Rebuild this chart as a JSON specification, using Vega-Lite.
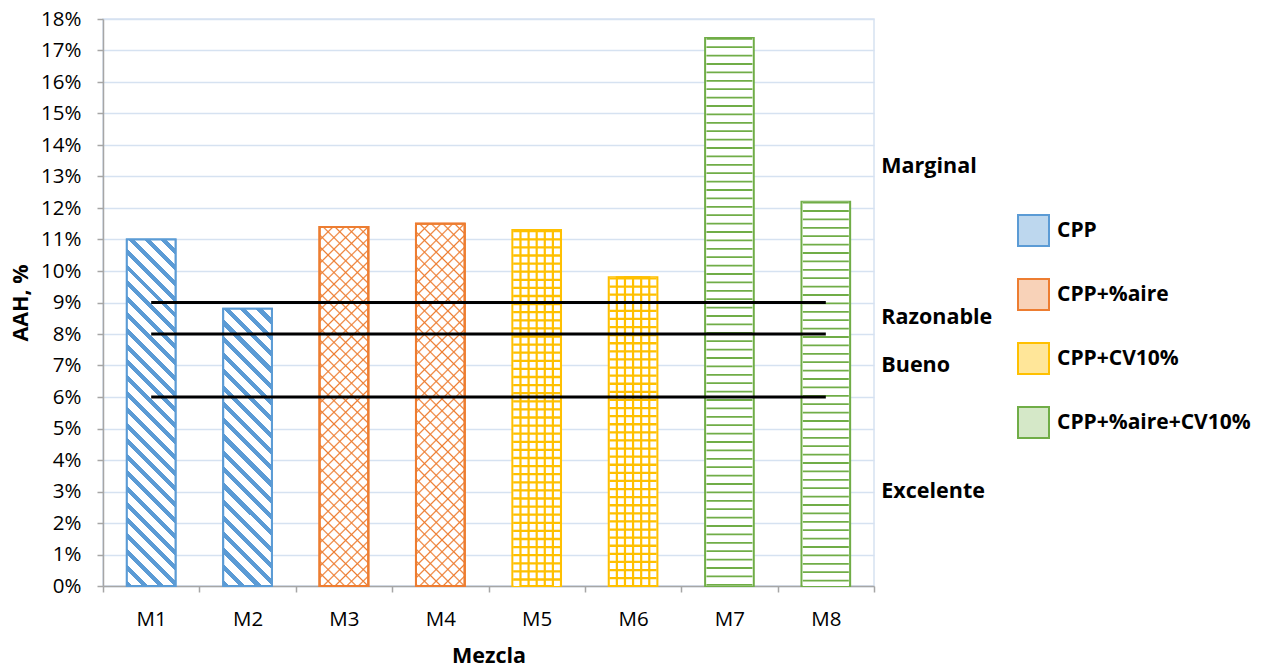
{
  "$schema": "https://vega.github.io/schema/vega-lite/v6.json",
  "width": 771,
  "height": 567,
  "autosize": "none",
  "padding": {"left": 103, "top": 19, "right": 403, "bottom": 84},
  "background": "white",
  "config": {
    "font": "Open Sans",
    "view": {"stroke": "#d6e2f1", "strokeWidth": 1.5},
    "axis": {
      "labelFont": "Open Sans", "labelFontSize": 20.5, "labelColor": "#000",
      "titleFont": "Open Sans", "titleFontSize": 21.5, "titleFontWeight": "bold", "titleColor": "#000",
      "domainColor": "#a6a6a6", "tickColor": "#a6a6a6", "domainWidth": 1.5, "tickWidth": 1.5, "tickSize": 6
    },
    "legend": {
      "orient": "none", "legendX": 914, "legendY": 195, "padding": 0,
      "symbolType": "square", "symbolSize": 961, "symbolStrokeWidth": 2,
      "labelFont": "Open Sans", "labelFontSize": 21, "labelFontWeight": "bold", "labelColor": "#000",
      "labelOffset": 7, "rowPadding": 25, "labelLimit": 0, "title": null
    }
  },
  "data": {
    "values": [
      {"Mezcla": "M1", "AAH": 0.110, "Tipo": "CPP"},
      {"Mezcla": "M2", "AAH": 0.088, "Tipo": "CPP"},
      {"Mezcla": "M3", "AAH": 0.114, "Tipo": "CPP+%aire"},
      {"Mezcla": "M4", "AAH": 0.115, "Tipo": "CPP+%aire"},
      {"Mezcla": "M5", "AAH": 0.113, "Tipo": "CPP+CV10%"},
      {"Mezcla": "M6", "AAH": 0.098, "Tipo": "CPP+CV10%"},
      {"Mezcla": "M7", "AAH": 0.174, "Tipo": "CPP+%aire+CV10%"},
      {"Mezcla": "M8", "AAH": 0.122, "Tipo": "CPP+%aire+CV10%"}
    ]
  },
  "encoding": {
    "x": {
      "field": "Mezcla", "type": "nominal",
      "scale": {"type": "band", "paddingInner": 0, "paddingOuter": 0},
      "axis": {"title": "Mezcla", "labelAngle": 0, "tickBand": "extent", "labelPadding": 17, "titlePadding": 16, "grid": false}
    },
    "y": {
      "field": "AAH", "type": "quantitative",
      "scale": {"domain": [0, 0.18], "nice": false},
      "axis": {
        "title": "AAH, %",
        "values": [0, 0.01, 0.02, 0.03, 0.04, 0.05, 0.06, 0.07, 0.08, 0.09, 0.1, 0.11, 0.12, 0.13, 0.14, 0.15, 0.16, 0.17, 0.18],
        "format": ".0%", "grid": true, "gridColor": "#d6e2f1", "gridWidth": 1.5,
        "labelPadding": 16, "titlePadding": 8
      }
    }
  },
  "layer": [
    {
      "mark": {"type": "bar", "width": {"band": 0.505}, "strokeWidth": 2},
      "encoding": {
        "fill": {
          "field": "Tipo", "type": "nominal",
          "scale": {"domain": ["CPP", "CPP+%aire", "CPP+CV10%", "CPP+%aire+CV10%"], "range": ["#bdd7ee", "#f8d2b8", "#ffe699", "#d5e8c8"]}
        },
        "stroke": {
          "field": "Tipo", "type": "nominal",
          "scale": {"domain": ["CPP", "CPP+%aire", "CPP+CV10%", "CPP+%aire+CV10%"], "range": ["#5b9bd5", "#ed7d31", "#ffc000", "#70ad47"]}
        }
      }
    },
    {
      "transform": [{"filter": "datum.Mezcla === 'M1'"}],
      "mark": {
        "type": "bar", "width": {"band": 0.505}, "stroke": "#5b9bd5", "strokeWidth": 2,
        "fill": {
          "gradient": "linear", "x1": 0, "y1": 1, "x2": 0.1571, "y2": -0.1185,
          "stops": [
            {"offset": 0, "color": "#5b9bd5"}, {"offset": 0.015, "color": "#5b9bd5"}, {"offset": 0.015, "color": "#ffffff"}, {"offset": 0.04, "color": "#ffffff"},
            {"offset": 0.04, "color": "#5b9bd5"}, {"offset": 0.055, "color": "#5b9bd5"}, {"offset": 0.055, "color": "#ffffff"}, {"offset": 0.08, "color": "#ffffff"},
            {"offset": 0.08, "color": "#5b9bd5"}, {"offset": 0.095, "color": "#5b9bd5"}, {"offset": 0.095, "color": "#ffffff"}, {"offset": 0.12, "color": "#ffffff"},
            {"offset": 0.12, "color": "#5b9bd5"}, {"offset": 0.135, "color": "#5b9bd5"}, {"offset": 0.135, "color": "#ffffff"}, {"offset": 0.16, "color": "#ffffff"},
            {"offset": 0.16, "color": "#5b9bd5"}, {"offset": 0.175, "color": "#5b9bd5"}, {"offset": 0.175, "color": "#ffffff"}, {"offset": 0.2, "color": "#ffffff"},
            {"offset": 0.2, "color": "#5b9bd5"}, {"offset": 0.215, "color": "#5b9bd5"}, {"offset": 0.215, "color": "#ffffff"}, {"offset": 0.24, "color": "#ffffff"},
            {"offset": 0.24, "color": "#5b9bd5"}, {"offset": 0.255, "color": "#5b9bd5"}, {"offset": 0.255, "color": "#ffffff"}, {"offset": 0.28, "color": "#ffffff"},
            {"offset": 0.28, "color": "#5b9bd5"}, {"offset": 0.295, "color": "#5b9bd5"}, {"offset": 0.295, "color": "#ffffff"}, {"offset": 0.32, "color": "#ffffff"},
            {"offset": 0.32, "color": "#5b9bd5"}, {"offset": 0.335, "color": "#5b9bd5"}, {"offset": 0.335, "color": "#ffffff"}, {"offset": 0.36, "color": "#ffffff"},
            {"offset": 0.36, "color": "#5b9bd5"}, {"offset": 0.375, "color": "#5b9bd5"}, {"offset": 0.375, "color": "#ffffff"}, {"offset": 0.4, "color": "#ffffff"},
            {"offset": 0.4, "color": "#5b9bd5"}, {"offset": 0.415, "color": "#5b9bd5"}, {"offset": 0.415, "color": "#ffffff"}, {"offset": 0.44, "color": "#ffffff"},
            {"offset": 0.44, "color": "#5b9bd5"}, {"offset": 0.455, "color": "#5b9bd5"}, {"offset": 0.455, "color": "#ffffff"}, {"offset": 0.48, "color": "#ffffff"},
            {"offset": 0.48, "color": "#5b9bd5"}, {"offset": 0.495, "color": "#5b9bd5"}, {"offset": 0.495, "color": "#ffffff"}, {"offset": 0.52, "color": "#ffffff"},
            {"offset": 0.52, "color": "#5b9bd5"}, {"offset": 0.535, "color": "#5b9bd5"}, {"offset": 0.535, "color": "#ffffff"}, {"offset": 0.56, "color": "#ffffff"},
            {"offset": 0.56, "color": "#5b9bd5"}, {"offset": 0.575, "color": "#5b9bd5"}, {"offset": 0.575, "color": "#ffffff"}, {"offset": 0.6, "color": "#ffffff"},
            {"offset": 0.6, "color": "#5b9bd5"}, {"offset": 0.615, "color": "#5b9bd5"}, {"offset": 0.615, "color": "#ffffff"}, {"offset": 0.64, "color": "#ffffff"},
            {"offset": 0.64, "color": "#5b9bd5"}, {"offset": 0.655, "color": "#5b9bd5"}, {"offset": 0.655, "color": "#ffffff"}, {"offset": 0.68, "color": "#ffffff"},
            {"offset": 0.68, "color": "#5b9bd5"}, {"offset": 0.695, "color": "#5b9bd5"}, {"offset": 0.695, "color": "#ffffff"}, {"offset": 0.72, "color": "#ffffff"},
            {"offset": 0.72, "color": "#5b9bd5"}, {"offset": 0.735, "color": "#5b9bd5"}, {"offset": 0.735, "color": "#ffffff"}, {"offset": 0.76, "color": "#ffffff"},
            {"offset": 0.76, "color": "#5b9bd5"}, {"offset": 0.775, "color": "#5b9bd5"}, {"offset": 0.775, "color": "#ffffff"}, {"offset": 0.8, "color": "#ffffff"},
            {"offset": 0.8, "color": "#5b9bd5"}, {"offset": 0.815, "color": "#5b9bd5"}, {"offset": 0.815, "color": "#ffffff"}, {"offset": 0.84, "color": "#ffffff"},
            {"offset": 0.84, "color": "#5b9bd5"}, {"offset": 0.855, "color": "#5b9bd5"}, {"offset": 0.855, "color": "#ffffff"}, {"offset": 0.88, "color": "#ffffff"},
            {"offset": 0.88, "color": "#5b9bd5"}, {"offset": 0.895, "color": "#5b9bd5"}, {"offset": 0.895, "color": "#ffffff"}, {"offset": 0.92, "color": "#ffffff"},
            {"offset": 0.92, "color": "#5b9bd5"}, {"offset": 0.935, "color": "#5b9bd5"}, {"offset": 0.935, "color": "#ffffff"}, {"offset": 0.96, "color": "#ffffff"},
            {"offset": 0.96, "color": "#5b9bd5"}, {"offset": 0.975, "color": "#5b9bd5"}, {"offset": 0.975, "color": "#ffffff"}, {"offset": 1, "color": "#ffffff"}
          ]
        }
      }
    },
    {
      "transform": [{"filter": "datum.Mezcla === 'M2'"}],
      "mark": {
        "type": "bar", "width": {"band": 0.505}, "stroke": "#5b9bd5", "strokeWidth": 2,
        "fill": {
          "gradient": "linear", "x1": 0, "y1": 1, "x2": 0.2002, "y2": -0.1405,
          "stops": [
            {"offset": 0, "color": "#5b9bd5"}, {"offset": 0.019, "color": "#5b9bd5"}, {"offset": 0.019, "color": "#ffffff"}, {"offset": 0.05, "color": "#ffffff"},
            {"offset": 0.05, "color": "#5b9bd5"}, {"offset": 0.069, "color": "#5b9bd5"}, {"offset": 0.069, "color": "#ffffff"}, {"offset": 0.1, "color": "#ffffff"},
            {"offset": 0.1, "color": "#5b9bd5"}, {"offset": 0.119, "color": "#5b9bd5"}, {"offset": 0.119, "color": "#ffffff"}, {"offset": 0.15, "color": "#ffffff"},
            {"offset": 0.15, "color": "#5b9bd5"}, {"offset": 0.169, "color": "#5b9bd5"}, {"offset": 0.169, "color": "#ffffff"}, {"offset": 0.2, "color": "#ffffff"},
            {"offset": 0.2, "color": "#5b9bd5"}, {"offset": 0.219, "color": "#5b9bd5"}, {"offset": 0.219, "color": "#ffffff"}, {"offset": 0.25, "color": "#ffffff"},
            {"offset": 0.25, "color": "#5b9bd5"}, {"offset": 0.269, "color": "#5b9bd5"}, {"offset": 0.269, "color": "#ffffff"}, {"offset": 0.3, "color": "#ffffff"},
            {"offset": 0.3, "color": "#5b9bd5"}, {"offset": 0.319, "color": "#5b9bd5"}, {"offset": 0.319, "color": "#ffffff"}, {"offset": 0.35, "color": "#ffffff"},
            {"offset": 0.35, "color": "#5b9bd5"}, {"offset": 0.369, "color": "#5b9bd5"}, {"offset": 0.369, "color": "#ffffff"}, {"offset": 0.4, "color": "#ffffff"},
            {"offset": 0.4, "color": "#5b9bd5"}, {"offset": 0.419, "color": "#5b9bd5"}, {"offset": 0.419, "color": "#ffffff"}, {"offset": 0.45, "color": "#ffffff"},
            {"offset": 0.45, "color": "#5b9bd5"}, {"offset": 0.469, "color": "#5b9bd5"}, {"offset": 0.469, "color": "#ffffff"}, {"offset": 0.5, "color": "#ffffff"},
            {"offset": 0.5, "color": "#5b9bd5"}, {"offset": 0.519, "color": "#5b9bd5"}, {"offset": 0.519, "color": "#ffffff"}, {"offset": 0.55, "color": "#ffffff"},
            {"offset": 0.55, "color": "#5b9bd5"}, {"offset": 0.569, "color": "#5b9bd5"}, {"offset": 0.569, "color": "#ffffff"}, {"offset": 0.6, "color": "#ffffff"},
            {"offset": 0.6, "color": "#5b9bd5"}, {"offset": 0.619, "color": "#5b9bd5"}, {"offset": 0.619, "color": "#ffffff"}, {"offset": 0.65, "color": "#ffffff"},
            {"offset": 0.65, "color": "#5b9bd5"}, {"offset": 0.669, "color": "#5b9bd5"}, {"offset": 0.669, "color": "#ffffff"}, {"offset": 0.7, "color": "#ffffff"},
            {"offset": 0.7, "color": "#5b9bd5"}, {"offset": 0.719, "color": "#5b9bd5"}, {"offset": 0.719, "color": "#ffffff"}, {"offset": 0.75, "color": "#ffffff"},
            {"offset": 0.75, "color": "#5b9bd5"}, {"offset": 0.769, "color": "#5b9bd5"}, {"offset": 0.769, "color": "#ffffff"}, {"offset": 0.8, "color": "#ffffff"},
            {"offset": 0.8, "color": "#5b9bd5"}, {"offset": 0.819, "color": "#5b9bd5"}, {"offset": 0.819, "color": "#ffffff"}, {"offset": 0.85, "color": "#ffffff"},
            {"offset": 0.85, "color": "#5b9bd5"}, {"offset": 0.869, "color": "#5b9bd5"}, {"offset": 0.869, "color": "#ffffff"}, {"offset": 0.9, "color": "#ffffff"},
            {"offset": 0.9, "color": "#5b9bd5"}, {"offset": 0.919, "color": "#5b9bd5"}, {"offset": 0.919, "color": "#ffffff"}, {"offset": 0.95, "color": "#ffffff"},
            {"offset": 0.95, "color": "#5b9bd5"}, {"offset": 0.969, "color": "#5b9bd5"}, {"offset": 0.969, "color": "#ffffff"}, {"offset": 1, "color": "#ffffff"}
          ]
        }
      }
    },
    {
      "transform": [{"filter": "datum.Tipo === 'CPP+%aire'"}],
      "mark": {
        "type": "bar", "width": {"band": 0.505}, "stroke": "#ed7d31", "strokeWidth": 2,
        "fill": {
          "gradient": "linear", "x1": 0, "y1": 1, "x2": 0.1719, "y2": -0.2743,
          "stops": [
            {"offset": 0, "color": "#ffffff"}, {"offset": 0.0035, "color": "#ed7d31"}, {"offset": 0.007, "color": "#ffffff"},
            {"offset": 0.025, "color": "#ffffff"}, {"offset": 0.0285, "color": "#ed7d31"}, {"offset": 0.032, "color": "#ffffff"},
            {"offset": 0.05, "color": "#ffffff"}, {"offset": 0.0535, "color": "#ed7d31"}, {"offset": 0.057, "color": "#ffffff"},
            {"offset": 0.075, "color": "#ffffff"}, {"offset": 0.0785, "color": "#ed7d31"}, {"offset": 0.082, "color": "#ffffff"},
            {"offset": 0.1, "color": "#ffffff"}, {"offset": 0.1035, "color": "#ed7d31"}, {"offset": 0.107, "color": "#ffffff"},
            {"offset": 0.125, "color": "#ffffff"}, {"offset": 0.1285, "color": "#ed7d31"}, {"offset": 0.132, "color": "#ffffff"},
            {"offset": 0.15, "color": "#ffffff"}, {"offset": 0.1535, "color": "#ed7d31"}, {"offset": 0.157, "color": "#ffffff"},
            {"offset": 0.175, "color": "#ffffff"}, {"offset": 0.1785, "color": "#ed7d31"}, {"offset": 0.182, "color": "#ffffff"},
            {"offset": 0.2, "color": "#ffffff"}, {"offset": 0.2035, "color": "#ed7d31"}, {"offset": 0.207, "color": "#ffffff"},
            {"offset": 0.225, "color": "#ffffff"}, {"offset": 0.2285, "color": "#ed7d31"}, {"offset": 0.232, "color": "#ffffff"},
            {"offset": 0.25, "color": "#ffffff"}, {"offset": 0.2535, "color": "#ed7d31"}, {"offset": 0.257, "color": "#ffffff"},
            {"offset": 0.275, "color": "#ffffff"}, {"offset": 0.2785, "color": "#ed7d31"}, {"offset": 0.282, "color": "#ffffff"},
            {"offset": 0.3, "color": "#ffffff"}, {"offset": 0.3035, "color": "#ed7d31"}, {"offset": 0.307, "color": "#ffffff"},
            {"offset": 0.325, "color": "#ffffff"}, {"offset": 0.3285, "color": "#ed7d31"}, {"offset": 0.332, "color": "#ffffff"},
            {"offset": 0.35, "color": "#ffffff"}, {"offset": 0.3535, "color": "#ed7d31"}, {"offset": 0.357, "color": "#ffffff"},
            {"offset": 0.375, "color": "#ffffff"}, {"offset": 0.3785, "color": "#ed7d31"}, {"offset": 0.382, "color": "#ffffff"},
            {"offset": 0.4, "color": "#ffffff"}, {"offset": 0.4035, "color": "#ed7d31"}, {"offset": 0.407, "color": "#ffffff"},
            {"offset": 0.425, "color": "#ffffff"}, {"offset": 0.4285, "color": "#ed7d31"}, {"offset": 0.432, "color": "#ffffff"},
            {"offset": 0.45, "color": "#ffffff"}, {"offset": 0.4535, "color": "#ed7d31"}, {"offset": 0.457, "color": "#ffffff"},
            {"offset": 0.475, "color": "#ffffff"}, {"offset": 0.4785, "color": "#ed7d31"}, {"offset": 0.482, "color": "#ffffff"},
            {"offset": 0.5, "color": "#ffffff"}, {"offset": 0.5035, "color": "#ed7d31"}, {"offset": 0.507, "color": "#ffffff"},
            {"offset": 0.525, "color": "#ffffff"}, {"offset": 0.5285, "color": "#ed7d31"}, {"offset": 0.532, "color": "#ffffff"},
            {"offset": 0.55, "color": "#ffffff"}, {"offset": 0.5535, "color": "#ed7d31"}, {"offset": 0.557, "color": "#ffffff"},
            {"offset": 0.575, "color": "#ffffff"}, {"offset": 0.5785, "color": "#ed7d31"}, {"offset": 0.582, "color": "#ffffff"},
            {"offset": 0.6, "color": "#ffffff"}, {"offset": 0.6035, "color": "#ed7d31"}, {"offset": 0.607, "color": "#ffffff"},
            {"offset": 0.625, "color": "#ffffff"}, {"offset": 0.6285, "color": "#ed7d31"}, {"offset": 0.632, "color": "#ffffff"},
            {"offset": 0.65, "color": "#ffffff"}, {"offset": 0.6535, "color": "#ed7d31"}, {"offset": 0.657, "color": "#ffffff"},
            {"offset": 0.675, "color": "#ffffff"}, {"offset": 0.6785, "color": "#ed7d31"}, {"offset": 0.682, "color": "#ffffff"},
            {"offset": 0.7, "color": "#ffffff"}, {"offset": 0.7035, "color": "#ed7d31"}, {"offset": 0.707, "color": "#ffffff"},
            {"offset": 0.725, "color": "#ffffff"}, {"offset": 0.7285, "color": "#ed7d31"}, {"offset": 0.732, "color": "#ffffff"},
            {"offset": 0.75, "color": "#ffffff"}, {"offset": 0.7535, "color": "#ed7d31"}, {"offset": 0.757, "color": "#ffffff"},
            {"offset": 0.775, "color": "#ffffff"}, {"offset": 0.7785, "color": "#ed7d31"}, {"offset": 0.782, "color": "#ffffff"},
            {"offset": 0.8, "color": "#ffffff"}, {"offset": 0.8035, "color": "#ed7d31"}, {"offset": 0.807, "color": "#ffffff"},
            {"offset": 0.825, "color": "#ffffff"}, {"offset": 0.8285, "color": "#ed7d31"}, {"offset": 0.832, "color": "#ffffff"},
            {"offset": 0.85, "color": "#ffffff"}, {"offset": 0.8535, "color": "#ed7d31"}, {"offset": 0.857, "color": "#ffffff"},
            {"offset": 0.875, "color": "#ffffff"}, {"offset": 0.8785, "color": "#ed7d31"}, {"offset": 0.882, "color": "#ffffff"}
          ]
        }
      }
    },
    {
      "transform": [{"filter": "datum.Tipo === 'CPP+%aire'"}],
      "mark": {
        "type": "bar", "width": {"band": 0.505}, "stroke": "#ed7d31", "strokeWidth": 2,
        "fill": {
          "gradient": "linear", "x1": 0, "y1": 0, "x2": 0.1719, "y2": 1.2743,
          "stops": [
            {"offset": 0, "color": "rgba(237,125,49,0)"}, {"offset": 0.0035, "color": "#ed7d31"}, {"offset": 0.007, "color": "rgba(237,125,49,0)"},
            {"offset": 0.025, "color": "rgba(237,125,49,0)"}, {"offset": 0.0285, "color": "#ed7d31"}, {"offset": 0.032, "color": "rgba(237,125,49,0)"},
            {"offset": 0.05, "color": "rgba(237,125,49,0)"}, {"offset": 0.0535, "color": "#ed7d31"}, {"offset": 0.057, "color": "rgba(237,125,49,0)"},
            {"offset": 0.075, "color": "rgba(237,125,49,0)"}, {"offset": 0.0785, "color": "#ed7d31"}, {"offset": 0.082, "color": "rgba(237,125,49,0)"},
            {"offset": 0.1, "color": "rgba(237,125,49,0)"}, {"offset": 0.1035, "color": "#ed7d31"}, {"offset": 0.107, "color": "rgba(237,125,49,0)"},
            {"offset": 0.125, "color": "rgba(237,125,49,0)"}, {"offset": 0.1285, "color": "#ed7d31"}, {"offset": 0.132, "color": "rgba(237,125,49,0)"},
            {"offset": 0.15, "color": "rgba(237,125,49,0)"}, {"offset": 0.1535, "color": "#ed7d31"}, {"offset": 0.157, "color": "rgba(237,125,49,0)"},
            {"offset": 0.175, "color": "rgba(237,125,49,0)"}, {"offset": 0.1785, "color": "#ed7d31"}, {"offset": 0.182, "color": "rgba(237,125,49,0)"},
            {"offset": 0.2, "color": "rgba(237,125,49,0)"}, {"offset": 0.2035, "color": "#ed7d31"}, {"offset": 0.207, "color": "rgba(237,125,49,0)"},
            {"offset": 0.225, "color": "rgba(237,125,49,0)"}, {"offset": 0.2285, "color": "#ed7d31"}, {"offset": 0.232, "color": "rgba(237,125,49,0)"},
            {"offset": 0.25, "color": "rgba(237,125,49,0)"}, {"offset": 0.2535, "color": "#ed7d31"}, {"offset": 0.257, "color": "rgba(237,125,49,0)"},
            {"offset": 0.275, "color": "rgba(237,125,49,0)"}, {"offset": 0.2785, "color": "#ed7d31"}, {"offset": 0.282, "color": "rgba(237,125,49,0)"},
            {"offset": 0.3, "color": "rgba(237,125,49,0)"}, {"offset": 0.3035, "color": "#ed7d31"}, {"offset": 0.307, "color": "rgba(237,125,49,0)"},
            {"offset": 0.325, "color": "rgba(237,125,49,0)"}, {"offset": 0.3285, "color": "#ed7d31"}, {"offset": 0.332, "color": "rgba(237,125,49,0)"},
            {"offset": 0.35, "color": "rgba(237,125,49,0)"}, {"offset": 0.3535, "color": "#ed7d31"}, {"offset": 0.357, "color": "rgba(237,125,49,0)"},
            {"offset": 0.375, "color": "rgba(237,125,49,0)"}, {"offset": 0.3785, "color": "#ed7d31"}, {"offset": 0.382, "color": "rgba(237,125,49,0)"},
            {"offset": 0.4, "color": "rgba(237,125,49,0)"}, {"offset": 0.4035, "color": "#ed7d31"}, {"offset": 0.407, "color": "rgba(237,125,49,0)"},
            {"offset": 0.425, "color": "rgba(237,125,49,0)"}, {"offset": 0.4285, "color": "#ed7d31"}, {"offset": 0.432, "color": "rgba(237,125,49,0)"},
            {"offset": 0.45, "color": "rgba(237,125,49,0)"}, {"offset": 0.4535, "color": "#ed7d31"}, {"offset": 0.457, "color": "rgba(237,125,49,0)"},
            {"offset": 0.475, "color": "rgba(237,125,49,0)"}, {"offset": 0.4785, "color": "#ed7d31"}, {"offset": 0.482, "color": "rgba(237,125,49,0)"},
            {"offset": 0.5, "color": "rgba(237,125,49,0)"}, {"offset": 0.5035, "color": "#ed7d31"}, {"offset": 0.507, "color": "rgba(237,125,49,0)"},
            {"offset": 0.525, "color": "rgba(237,125,49,0)"}, {"offset": 0.5285, "color": "#ed7d31"}, {"offset": 0.532, "color": "rgba(237,125,49,0)"},
            {"offset": 0.55, "color": "rgba(237,125,49,0)"}, {"offset": 0.5535, "color": "#ed7d31"}, {"offset": 0.557, "color": "rgba(237,125,49,0)"},
            {"offset": 0.575, "color": "rgba(237,125,49,0)"}, {"offset": 0.5785, "color": "#ed7d31"}, {"offset": 0.582, "color": "rgba(237,125,49,0)"},
            {"offset": 0.6, "color": "rgba(237,125,49,0)"}, {"offset": 0.6035, "color": "#ed7d31"}, {"offset": 0.607, "color": "rgba(237,125,49,0)"},
            {"offset": 0.625, "color": "rgba(237,125,49,0)"}, {"offset": 0.6285, "color": "#ed7d31"}, {"offset": 0.632, "color": "rgba(237,125,49,0)"},
            {"offset": 0.65, "color": "rgba(237,125,49,0)"}, {"offset": 0.6535, "color": "#ed7d31"}, {"offset": 0.657, "color": "rgba(237,125,49,0)"},
            {"offset": 0.675, "color": "rgba(237,125,49,0)"}, {"offset": 0.6785, "color": "#ed7d31"}, {"offset": 0.682, "color": "rgba(237,125,49,0)"},
            {"offset": 0.7, "color": "rgba(237,125,49,0)"}, {"offset": 0.7035, "color": "#ed7d31"}, {"offset": 0.707, "color": "rgba(237,125,49,0)"},
            {"offset": 0.725, "color": "rgba(237,125,49,0)"}, {"offset": 0.7285, "color": "#ed7d31"}, {"offset": 0.732, "color": "rgba(237,125,49,0)"},
            {"offset": 0.75, "color": "rgba(237,125,49,0)"}, {"offset": 0.7535, "color": "#ed7d31"}, {"offset": 0.757, "color": "rgba(237,125,49,0)"},
            {"offset": 0.775, "color": "rgba(237,125,49,0)"}, {"offset": 0.7785, "color": "#ed7d31"}, {"offset": 0.782, "color": "rgba(237,125,49,0)"},
            {"offset": 0.8, "color": "rgba(237,125,49,0)"}, {"offset": 0.8035, "color": "#ed7d31"}, {"offset": 0.807, "color": "rgba(237,125,49,0)"},
            {"offset": 0.825, "color": "rgba(237,125,49,0)"}, {"offset": 0.8285, "color": "#ed7d31"}, {"offset": 0.832, "color": "rgba(237,125,49,0)"},
            {"offset": 0.85, "color": "rgba(237,125,49,0)"}, {"offset": 0.8535, "color": "#ed7d31"}, {"offset": 0.857, "color": "rgba(237,125,49,0)"},
            {"offset": 0.875, "color": "rgba(237,125,49,0)"}, {"offset": 0.8785, "color": "#ed7d31"}, {"offset": 0.882, "color": "rgba(237,125,49,0)"}
          ]
        }
      }
    },
    {
      "transform": [{"filter": "datum.Tipo === 'CPP+CV10%' || datum.Tipo === 'CPP+%aire+CV10%'"}],
      "mark": {"type": "bar", "width": {"band": 0.48}, "fill": "#ffffff", "strokeWidth": 0}
    },
    {
      "transform": [{"filter": "datum.Tipo === 'CPP+CV10%'"}],
      "mark": {"type": "rule", "strokeWidth": 47, "strokeDash": [2.3, 5.8], "strokeCap": "butt", "color": "#ffc000"},
      "encoding": {"y2": {"datum": 0}}
    },
    {
      "transform": [{"filter": "datum.Tipo === 'CPP+CV10%'"}],
      "mark": {"type": "bar", "width": 32.4, "filled": false, "color": "#ffc000", "strokeWidth": 2.2}
    },
    {
      "transform": [{"filter": "datum.Tipo === 'CPP+CV10%'"}],
      "mark": {"type": "bar", "width": 16.2, "filled": false, "color": "#ffc000", "strokeWidth": 2.2}
    },
    {
      "transform": [{"filter": "datum.Tipo === 'CPP+CV10%'"}],
      "mark": {"type": "rule", "strokeWidth": 2.2, "color": "#ffc000"},
      "encoding": {"y2": {"datum": 0}}
    },
    {
      "transform": [{"filter": "datum.Tipo === 'CPP+%aire+CV10%'"}],
      "mark": {"type": "rule", "strokeWidth": 46, "strokeDash": [1.8, 6.6], "strokeCap": "butt", "color": "#70ad47"},
      "encoding": {"y2": {"datum": 0}}
    },
    {
      "data": {"values": [{"nivel": 0.09}, {"nivel": 0.08}, {"nivel": 0.06}]},
      "mark": {"type": "rule", "strokeWidth": 3, "color": "#000000"},
      "encoding": {
        "x": {"datum": "M1", "type": "nominal"},
        "x2": {"datum": "M8"},
        "y": {"field": "nivel", "type": "quantitative"}
      }
    },
    {
      "data": {"values": [
        {"zona": "Marginal", "pos": 0.133},
        {"zona": "Razonable", "pos": 0.085},
        {"zona": "Bueno", "pos": 0.070},
        {"zona": "Excelente", "pos": 0.030}
      ]},
      "mark": {"type": "text", "align": "left", "baseline": "middle", "dx": 55.5, "font": "Open Sans", "fontSize": 21.5, "fontWeight": "bold", "color": "#000000"},
      "encoding": {
        "x": {"datum": "M8", "type": "nominal"},
        "y": {"field": "pos", "type": "quantitative"},
        "text": {"field": "zona"}
      }
    }
  ]
}
